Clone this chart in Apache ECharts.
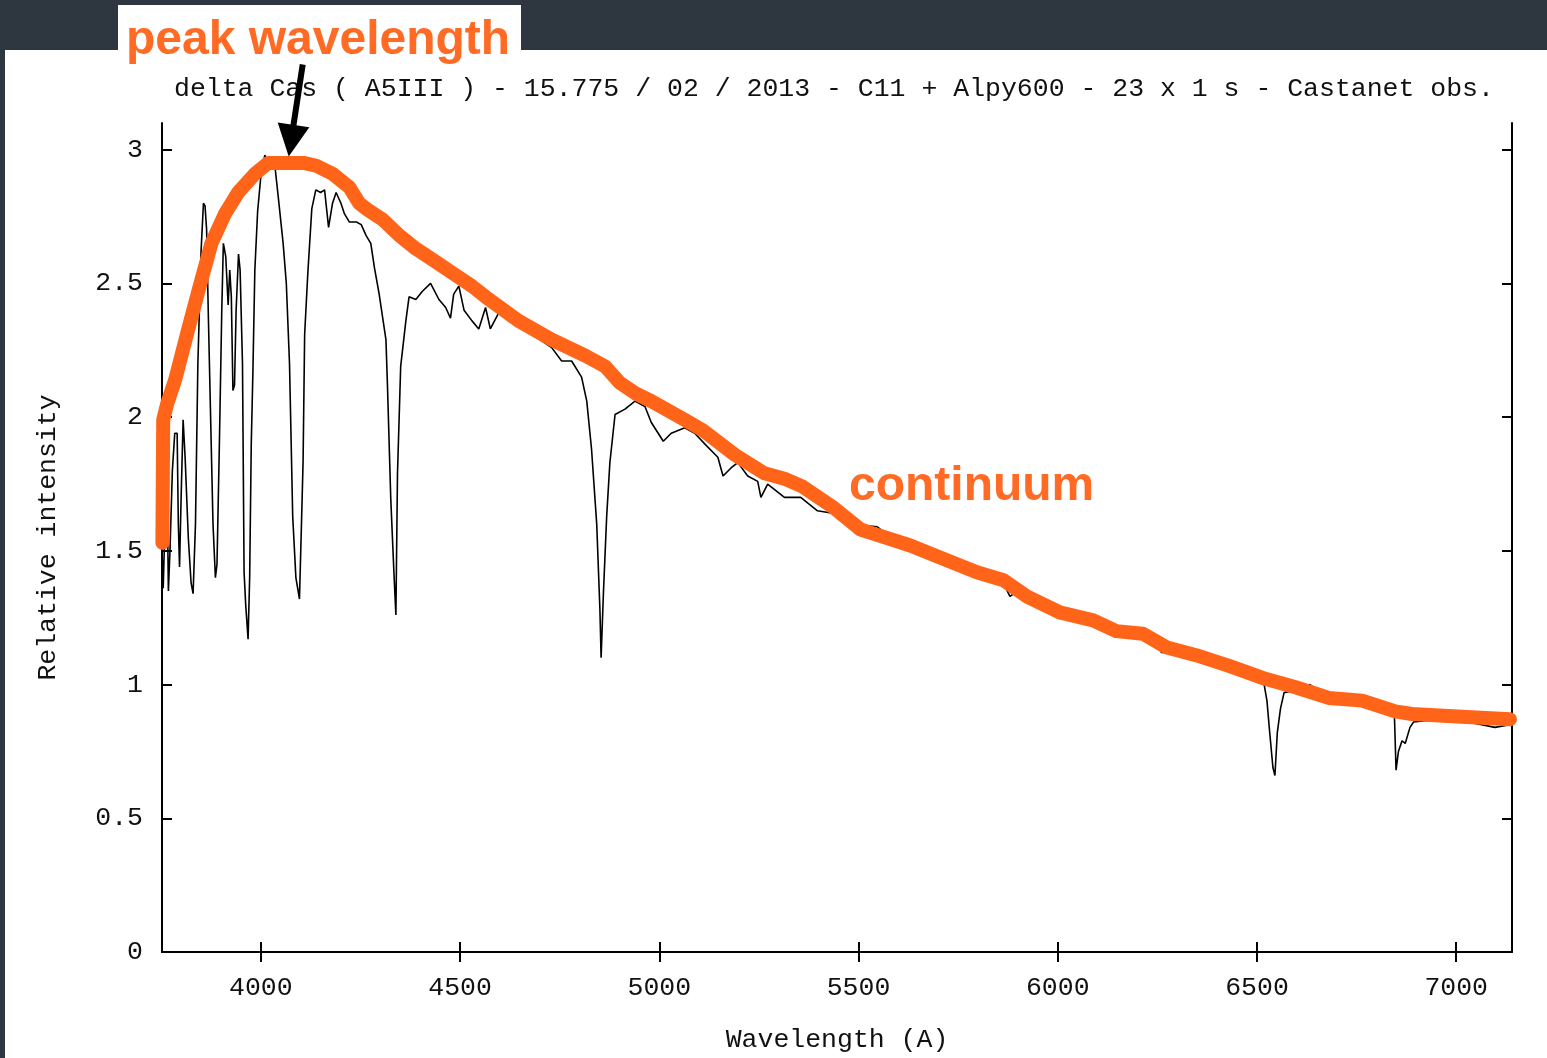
<!DOCTYPE html>
<html>
<head>
<meta charset="utf-8">
<title>delta Cas spectrum</title>
<script src="https://cdn.jsdelivr.net/npm/echarts@6/dist/echarts.min.js"></script>
<style>
  html, body { margin: 0; padding: 0; background: #2e3740; }
  #box { width: 1547px; height: 1058px; }
</style>
</head>
<body>
<div id="box"></div>
<script>
// spectre observé (trait noir)
var specWave = [3752, 3755, 3758, 3762, 3766, 3768, 3772, 3778, 3784, 3790, 3793, 3796, 3800, 3805, 3810, 3818, 3825, 3830, 3836, 3842,
  3850, 3856, 3860, 3864, 3868, 3874, 3880, 3886, 3890, 3896, 3902, 3906, 3912, 3918, 3922, 3926, 3930, 3934, 3938, 3944,
  3948, 3954, 3958, 3962, 3968, 3972, 3976, 3980, 3985, 3992, 4000, 4010, 4016, 4022, 4030, 4036, 4044, 4056, 4064, 4072,
  4080, 4088, 4097, 4102, 4106, 4110, 4118, 4128, 4138, 4150, 4160, 4170, 4180, 4189, 4201, 4210, 4222, 4240, 4252, 4264,
  4276, 4285, 4297, 4314, 4318, 4326, 4334, 4339, 4343, 4351, 4364, 4372, 4389, 4405, 4426, 4447, 4464, 4476, 4484, 4497,
  4510, 4530, 4547, 4564, 4576, 4597, 4622, 4660, 4690, 4730, 4755, 4780, 4805, 4818, 4830, 4843, 4851, 4854, 4860, 4868,
  4876, 4889, 4914, 4939, 4964, 4980, 5010, 5030, 5064, 5089, 5114, 5147, 5160, 5180, 5197, 5222, 5247, 5255, 5272, 5314,
  5355, 5397, 5439, 5480, 5547, 5600, 5650, 5700, 5750, 5800, 5850, 5870, 5880, 5900, 5950, 6000, 6050, 6100, 6150, 6200,
  6250, 6260, 6300, 6350, 6400, 6450, 6500, 6518, 6525, 6532, 6540, 6545, 6551, 6559, 6568, 6600, 6633, 6680, 6720, 6780,
  6800, 6830, 6845, 6849, 6855, 6864, 6872, 6884, 6893, 6950, 6987, 7030, 7097, 7135];
var specFlux = [1.50, 1.36, 1.52, 1.98, 1.60, 1.35, 1.50, 1.80, 1.94, 1.94, 1.60, 1.44, 1.70, 1.99, 1.85, 1.55, 1.38, 1.34, 1.60, 2.20,
  2.62, 2.80, 2.79, 2.70, 2.40, 2.00, 1.60, 1.40, 1.45, 1.90, 2.40, 2.65, 2.60, 2.42, 2.55, 2.45, 2.10, 2.12, 2.40, 2.61,
  2.55, 2.20, 1.42, 1.30, 1.17, 1.40, 1.90, 2.16, 2.55, 2.77, 2.90, 2.98, 2.96, 2.97, 2.96, 2.93, 2.82, 2.65, 2.50, 2.20,
  1.63, 1.40, 1.32, 1.60, 1.83, 2.31, 2.54, 2.78, 2.85, 2.84, 2.85, 2.71, 2.80, 2.84, 2.80, 2.76, 2.73, 2.73, 2.72, 2.68,
  2.65, 2.56, 2.46, 2.29, 2.11, 1.70, 1.42, 1.26, 1.79, 2.19, 2.36, 2.45, 2.44, 2.47, 2.50, 2.44, 2.41, 2.37, 2.46, 2.49,
  2.40, 2.36, 2.33, 2.41, 2.33, 2.39, 2.36, 2.33, 2.30, 2.26, 2.21, 2.21, 2.15, 2.06, 1.88, 1.60, 1.28, 1.10, 1.35, 1.63,
  1.83, 2.01, 2.03, 2.06, 2.04, 1.98, 1.91, 1.94, 1.96, 1.94, 1.90, 1.85, 1.78, 1.81, 1.83, 1.78, 1.76, 1.70, 1.75, 1.70,
  1.70, 1.65, 1.64, 1.60, 1.59, 1.53, 1.50, 1.47, 1.44, 1.41, 1.38, 1.36, 1.33, 1.35, 1.30, 1.26, 1.24, 1.22, 1.19, 1.18,
  1.15, 1.12, 1.12, 1.10, 1.07, 1.04, 1.01, 1.00, 0.94, 0.82, 0.69, 0.66, 0.82, 0.91, 0.97, 0.98, 1.00, 0.95, 0.94, 0.95,
  0.94, 0.90, 0.88, 0.68, 0.75, 0.79, 0.78, 0.84, 0.86, 0.87, 0.86, 0.86, 0.84, 0.85];

// continuum tracé à la main (trait orange)
var contWave = [3753, 3755, 3765, 3785, 3818, 3843, 3876, 3910, 3943, 3985, 4018, 4060, 4110, 4139, 4180, 4222, 4247, 4264, 4305, 4347,
  4389, 4430, 4480, 4530, 4564, 4647, 4730, 4814, 4864, 4900, 4939, 4980, 5064, 5110, 5189, 5264, 5314, 5360, 5439, 5505,
  5547, 5630, 5714, 5797, 5864, 5922, 6005, 6089, 6147, 6214, 6272, 6347, 6430, 6514, 6597, 6680, 6764, 6847, 6889, 7014, 7135];
var contFlux = [1.53, 1.99, 2.05, 2.14, 2.33, 2.47, 2.65, 2.76, 2.84, 2.91, 2.95, 2.95, 2.95, 2.94, 2.91, 2.86, 2.80, 2.78, 2.74, 2.68,
  2.63, 2.59, 2.54, 2.49, 2.45, 2.36, 2.29, 2.23, 2.19, 2.13, 2.09, 2.06, 1.99, 1.95, 1.86, 1.79, 1.77, 1.74, 1.66, 1.58,
  1.56, 1.52, 1.47, 1.42, 1.39, 1.33, 1.27, 1.24, 1.20, 1.19, 1.14, 1.11, 1.07, 1.025, 0.99, 0.95, 0.94, 0.90, 0.89, 0.88, 0.87];

var peakPoint = [4070, 2.975];
var xTicks = [4000, 4500, 5000, 5500, 6000, 6500, 7000];
var yTicks = [0, 0.5, 1, 1.5, 2, 2.5, 3];

var specData = specWave.map(function (w, i) { return [w, specFlux[i]]; });
var contData = contWave.map(function (w, i) { return [w, contFlux[i]]; });

var mono = "Liberation Mono";
var orange = "#ff6a25";
var noComma = function (v) { return String(v); };

var myChart = echarts.init(document.getElementById("box"));

var tickStyle = { show: true, inside: true, length: 10, lineStyle: { color: "#000", width: 2 } };

myChart.setOption({
  animation: false,
  backgroundColor: "#2e3740",
  title: {
    text: "delta Cas ( A5III ) - 15.775 / 02 / 2013 - C11 + Alpy600 - 23 x 1 s - Castanet obs.",
    left: 169,
    top: 70,
    textStyle: { fontFamily: mono, fontSize: 26.5, fontWeight: "normal", color: "#111" }
  },
  grid: { left: 162, right: 35, top: 123, bottom: 105 },
  xAxis: [
    {
      type: "value",
      min: 3752,
      max: 7140,
      name: "Wavelength (A)",
      nameLocation: "middle",
      nameGap: 74,
      nameTextStyle: { fontFamily: mono, fontSize: 26.5, color: "#111" },
      axisLine: { show: true, lineStyle: { color: "#000", width: 2 } },
      axisTick: Object.assign({ customValues: xTicks }, tickStyle),
      axisLabel: { customValues: xTicks, formatter: noComma, fontFamily: mono, fontSize: 26.5, color: "#111", margin: 22 },
      splitLine: { show: false }
    },
    {
      type: "value",
      position: "top",
      min: 3752,
      max: 7140,
      axisLine: { show: true, lineStyle: { color: "#000", width: 2 } },
      axisTick: Object.assign({ customValues: xTicks }, tickStyle),
      axisLabel: { show: false },
      splitLine: { show: false }
    }
  ],
  yAxis: [
    {
      type: "value",
      min: 0,
      max: 3.1,
      name: "Relative intensity",
      nameLocation: "middle",
      nameGap: 101,
      nameTextStyle: { fontFamily: mono, fontSize: 26.5, color: "#111" },
      axisLine: { show: true, lineStyle: { color: "#000", width: 2 } },
      axisTick: Object.assign({ customValues: yTicks }, tickStyle),
      axisLabel: { customValues: yTicks, formatter: noComma, fontFamily: mono, fontSize: 26.5, color: "#111", margin: 19 },
      splitLine: { show: false }
    },
    {
      type: "value",
      position: "right",
      min: 0,
      max: 3.1,
      axisLine: { show: true, lineStyle: { color: "#000", width: 2 } },
      axisTick: Object.assign({ customValues: yTicks }, tickStyle),
      axisLabel: { show: false },
      splitLine: { show: false }
    }
  ],
  series: [
    {
      name: "spectrum",
      type: "line",
      data: specData,
      showSymbol: false,
      lineStyle: { color: "#000", width: 1.6 },
      z: 3
    },
    {
      name: "continuum",
      type: "line",
      data: contData,
      showSymbol: false,
      clip: false,
      lineStyle: { color: "#ff6419", width: 14, cap: "round", join: "round" },
      z: 4
    }
  ],
  graphic: {
    elements: [
      { id: "panel", type: "rect", z: -100, silent: true, shape: { x: 5, y: 50, width: 1542, height: 1008 }, style: { fill: "#fff" } },
      { id: "tab", type: "rect", z: -100, silent: true, shape: { x: 118, y: 5, width: 403, height: 46 }, style: { fill: "#fff" } },
      {
        id: "peakText", type: "text", z: 50, left: 126, top: 17,
        style: { text: "peak wavelength", fill: orange, font: "bold 48px 'Liberation Sans', Arial, sans-serif" }
      },
      {
        id: "contText", type: "text", z: 50, left: 849, top: 463,
        style: { text: "continuum", fill: orange, font: "bold 48px 'Liberation Sans', Arial, sans-serif" }
      }
    ]
  }
});

// flèche vers le pic, placée depuis la valeur du pic
var tip = myChart.convertToPixel({ gridIndex: 0 }, peakPoint);
var tail = [tip[0] + 14, tip[1] - 92];
var dx = tip[0] - tail[0], dy = tip[1] - tail[1];
var len = Math.sqrt(dx * dx + dy * dy);
var ux = dx / len, uy = dy / len;
var base = [tip[0] - ux * 32, tip[1] - uy * 32];
var nx = -uy, ny = ux;

myChart.setOption({
  graphic: {
    elements: [
      {
        id: "arrowShaft", type: "line", z: 60,
        shape: { x1: tail[0], y1: tail[1], x2: base[0] + ux * 2, y2: base[1] + uy * 2 },
        style: { stroke: "#000", lineWidth: 6 }
      },
      {
        id: "arrowHead", type: "polygon", z: 60,
        shape: { points: [tip, [base[0] + nx * 16, base[1] + ny * 16], [base[0] - nx * 16, base[1] - ny * 16]] },
        style: { fill: "#000" }
      }
    ]
  }
});
</script>
</body>
</html>
